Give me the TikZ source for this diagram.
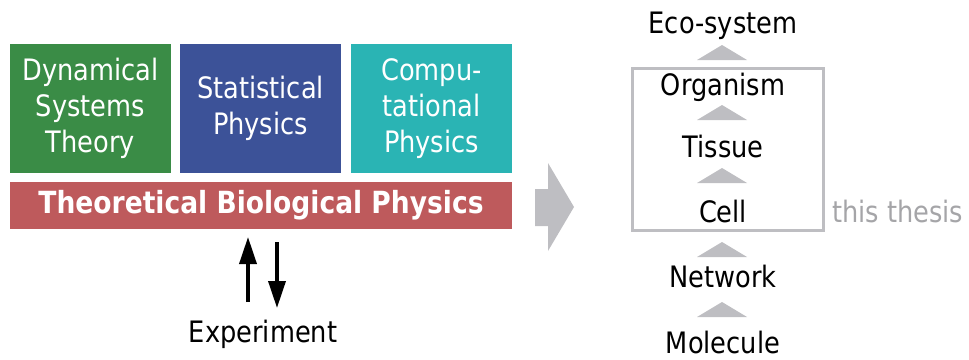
\documentclass[tikz,border=0pt]{standalone}
\usepackage{fontspec}
\setmainfont{DejaVu Sans}[FakeStretch=0.87]
\usetikzlibrary{arrows.meta}
\definecolor{dyngreen}{RGB}{58,140,70}
\definecolor{statblue}{RGB}{60,82,152}
\definecolor{compteal}{RGB}{42,180,180}
\definecolor{tbpred}{RGB}{190,90,92}
\definecolor{lightgrey}{RGB}{190,190,194}
\definecolor{thesisgrey}{RGB}{165,165,168}
\begin{document}
\begin{tikzpicture}[x=1pt,y=-1pt,every node/.style={inner sep=0pt,align=center,font=\fontsize{29.5}{36}\selectfont},
  field/.style={minimum width=161pt,minimum height=129pt,text=white},
  level/.style={anchor=base},
  tri/.style={fill=lightgrey}]
  \useasboundingbox (0,0) rectangle (969,359);
  \path (90.5,108.5) node[field,fill=dyngreen] (dyn) {Dynamical\\Systems\\Theory}
  (260.5,108.5) node[field,fill=statblue] (stat) {Statistical\\Physics}
  (431.5,108.5) node[field,fill=compteal] (comp) {Compu-\\tational\\Physics}
  (261,205.5) node[fill=tbpred,text=white,minimum width=502pt,minimum height=47pt,font=\fontsize{30.5}{34}\selectfont\bfseries] (tbp) {Theoretical Biological Physics}
  (263,342) node[level] (exp) {Experiment};
  \coordinate (up0) at (248,302); \coordinate (up1) at (248,237);
  \coordinate (dn0) at (277,242); \coordinate (dn1) at (277,308);
  \draw[line width=3.5pt,-{Triangle[length=27pt,width=17pt]}] (up0) -- (up1);
  \draw[line width=3.5pt,-{Triangle[length=27pt,width=17pt]}] (dn0) -- (dn1);
  \fill[lightgrey] (535,189) -- (548,189) -- (548,163) -- (574,207) -- (548,251) -- (548,226) -- (535,226) -- cycle;
  \path (723,33) node[level] (eco) {Eco-system} (723,95) node[level] (org) {Organism}
  (723,157) node[level] (tis) {Tissue} (723,222) node[level] (cell) {Cell}
  (723,287) node[level] (net) {Network} (723,353) node[level] (mol) {Molecule}
  (832,222) node[anchor=base west,text=thesisgrey] (thesis) {this thesis};
  \draw[lightgrey,line width=3pt] (632,68) rectangle (823,230);
  \foreach \y in {60,120,183,257,317}
    \fill[tri] (697,\y) -- (747,\y) -- (722,\y-15) -- cycle;
\end{tikzpicture}
\end{document}
